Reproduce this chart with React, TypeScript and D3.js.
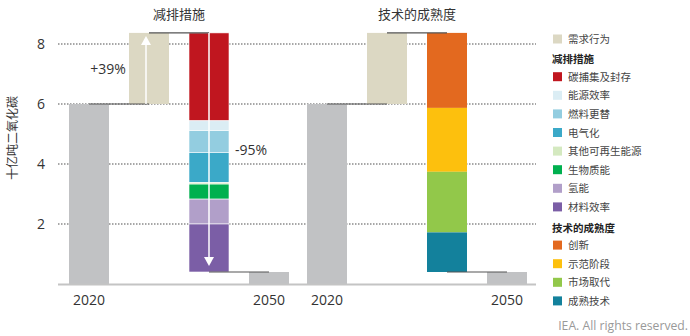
import React from "react";
import * as d3 from "d3";

const panelTitles = ["减排措施", "技术的成熟度"];
const steps = ["2020", "demand", "stack", "2050"];
const xLabels = ["2020", "2050"];
const base2020 = 6.0;
const demandIncrease = 2.37;
const value2050 = 0.4;
const yTicks = [2, 4, 6, 8];

const demandLabel = "需求行为";
const demandColor = "#dcd8c3";
const grayColor = "#c1c2c4";

const mitigationNames = ["碳捕集及封存", "能源效率", "燃料更替", "电气化", "其他可再生能源", "生物质能", "氢能", "材料效率"];
const mitigationValues = [2.93, 0.33, 0.73, 1.0, 0.05, 0.5, 0.83, 1.6];
const mitigationColors = ["#c0161f", "#dbedf4", "#93cde0", "#3ba9c8", "#d4e9c0", "#00b04f", "#b19fc9", "#7b5ea6"];

const maturityNames = ["创新", "示范阶段", "市场取代", "成熟技术"];
const maturityValues = [2.5, 2.13, 2.02, 1.32];
const maturityColors = ["#e3691f", "#fdc00d", "#92c84a", "#13819c"];

const pctUp = "+39%";
const pctDown = "-95%";
const yAxisLabel = "十亿吨二氧化碳";
const credit = "IEA. All rights reserved.";

const FONT = "'Noto Sans CJK SC', 'Open Sans', sans-serif";
const NUMFONT = "'Open Sans', 'Noto Sans', sans-serif";

export default function App() {
  const W = 690, H = 336;
  const y = d3.scaleLinear().domain([0, 8]).range([284, 44]);
  const panels = [
    d3.scaleBand().domain(steps).range([59, 299]).paddingInner(1 / 3).paddingOuter(1 / 6),
    d3.scaleBand().domain(steps).range([297, 537]).paddingInner(1 / 3).paddingOuter(1 / 6),
  ];
  const top = base2020 + demandIncrease;

  const renderPanel = (x: d3.ScaleBand<string>, pi: number) => {
    const bw = x.bandwidth();
    const cx = (k: string) => (x(k) as number) + bw / 2;
    const vals = pi === 0 ? mitigationValues : maturityValues;
    const cols = pi === 0 ? mitigationColors : maturityColors;
    let cum = top;
    const segs = vals.map((v, i) => {
      const s = { y0: cum, y1: cum - v, c: cols[i] };
      cum -= v;
      return s;
    });
    return (
      <g key={pi}>
        <text x={(x("2020") as number + (x("2050") as number) + bw) / 2} y={19} textAnchor="middle" fontFamily={FONT} fontSize={13} fill="#333">{panelTitles[pi]}</text>
        <rect x={x("2020")} y={y(base2020)} width={bw} height={y(0) - y(base2020)} fill={grayColor} />
        <rect x={x("demand")} y={y(top)} width={bw} height={y(base2020) - y(top)} fill={demandColor} />
        {segs.map((s, i) => (
          <rect key={i} x={x("stack")} y={y(s.y0)} width={bw} height={y(s.y1) - y(s.y0)} fill={s.c} stroke={pi === 0 ? "#ffffff" : "none"} strokeWidth={pi === 0 ? 0.6 : 0} />
        ))}
        <rect x={x("2050")} y={y(value2050)} width={bw} height={y(0) - y(value2050)} fill={grayColor} />
        <line x1={cx("2020")} x2={cx("demand")} y1={y(base2020)} y2={y(base2020)} stroke="#555" strokeWidth={1.2} />
        <line x1={cx("demand")} x2={cx("stack")} y1={y(top)} y2={y(top)} stroke="#555" strokeWidth={1.2} />
        <line x1={cx("stack")} x2={cx("2050")} y1={y(value2050)} y2={y(value2050)} stroke="#555" strokeWidth={1.2} />
        {pi === 0 && (
          <g>
            <line x1={cx("demand") - 3} x2={cx("demand") - 3} y1={y(base2020)} y2={y(top) + 10} stroke="#fff" strokeWidth={1.5} />
            <path d={`M${cx("demand") - 3},${y(top) + 3} l-5,9 l10,0 z`} fill="#fff" />
            <line x1={cx("stack")} x2={cx("stack")} y1={y(top)} y2={y(value2050) - 14} stroke="#fff" strokeWidth={1.5} />
            <path d={`M${cx("stack")},${y(value2050) - 6} l-5,-9 l10,0 z`} fill="#fff" />
            <text x={108} y={74} textAnchor="middle" fontFamily={NUMFONT} fontSize={14} fill="#333">{pctUp}</text>
            <text x={251} y={155} textAnchor="middle" fontFamily={NUMFONT} fontSize={14} fill="#333">{pctDown}</text>
          </g>
        )}
        <text x={cx("2020")} y={305} textAnchor="middle" fontFamily={NUMFONT} fontSize={14} fill="#333">{xLabels[0]}</text>
        <text x={cx("2050")} y={305} textAnchor="middle" fontFamily={NUMFONT} fontSize={14} fill="#333">{xLabels[1]}</text>
      </g>
    );
  };

  const legendRows: { type: string; label: string; color?: string; y: number }[] = [];
  let ly = 39;
  const step = 18.6;
  legendRows.push({ type: "item", label: demandLabel, color: demandColor, y: ly });
  ly += step + 1.5;
  legendRows.push({ type: "head", label: panelTitles[0], y: ly });
  ly += step - 1;
  mitigationNames.forEach((n, i) => { legendRows.push({ type: "item", label: n, color: mitigationColors[i], y: ly }); ly += step; });
  ly += 2.5;
  legendRows.push({ type: "head", label: panelTitles[1], y: ly });
  ly += step - 1.5;
  maturityNames.forEach((n, i) => { legendRows.push({ type: "item", label: n, color: maturityColors[i], y: ly }); ly += step; });

  return (
    <svg width={W} height={H} style={{ display: "block", position: "absolute", left: 0, top: 0 }}>
      <rect width={W} height={H} fill="#fff" />
      {yTicks.map((t) => (
        <g key={t}>
          <line x1={58} x2={536} y1={y(t)} y2={y(t)} stroke="#8a8a8a" strokeWidth={1.5} strokeDasharray="1.5,1.5" />
          <text x={45} y={y(t) + 5} textAnchor="end" fontFamily={NUMFONT} fontSize={14} fill="#333">{t}</text>
        </g>
      ))}
      {panels.map((p, i) => renderPanel(p, i))}
      <line x1={58} x2={536} y1={y(0) + 0.5} y2={y(0) + 0.5} stroke="#c4c4c4" strokeWidth={2} />
      <text transform={`translate(17,138) rotate(-90)`} textAnchor="middle" fontFamily={FONT} fontSize={12} fill="#333">{yAxisLabel}</text>
      {legendRows.map((r, i) =>
        r.type === "head" ? (
          <text key={i} x={552} y={r.y + 4} fontFamily={FONT} fontSize={10.5} fontWeight="bold" fill="#222">{r.label}</text>
        ) : (
          <g key={i}>
            <rect x={553} y={r.y - 4.5} width={9} height={9} fill={r.color} />
            <text x={568} y={r.y + 4} fontFamily={FONT} fontSize={10.5} fill="#444">{r.label}</text>
          </g>
        )
      )}
      <text x={688} y={330} textAnchor="end" fontFamily={NUMFONT} fontSize={12.2} fill="#999">{credit}</text>
    </svg>
  );
}
